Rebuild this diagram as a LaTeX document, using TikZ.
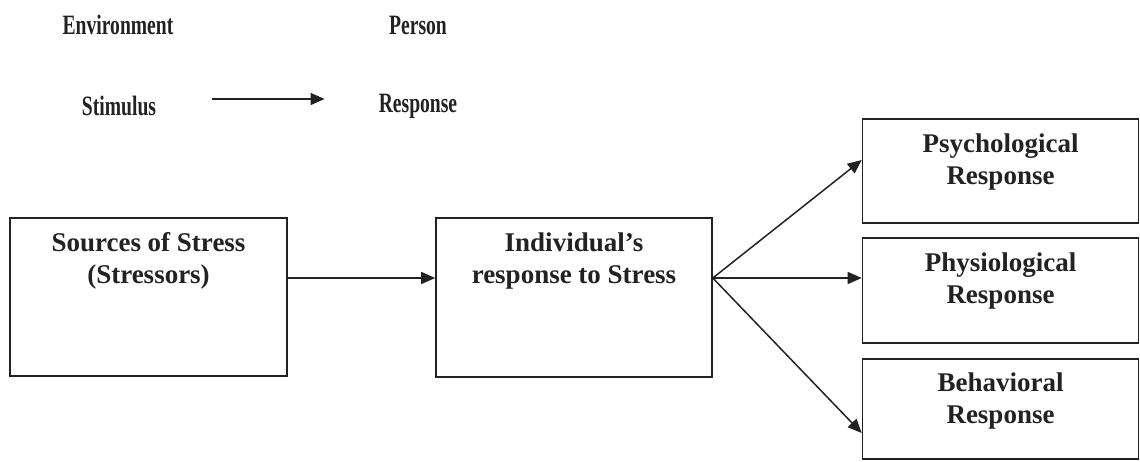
\documentclass[tikz,border=0pt]{standalone}
\usepackage{fontspec}
\setmainfont{Liberation Serif}
\newfontfamily\condfont[FakeStretch=0.7]{Liberation Serif}
\usetikzlibrary{arrows.meta}
\definecolor{ink}{HTML}{222222}
\tikzset{
  box/.style={draw=ink, line width=1.6pt, inner sep=0pt},
  txt/.style={text=ink, align=center, inner sep=0pt, font=\bfseries\fontsize{27}{32}\selectfont},
  toplab/.style={text=ink, inner sep=0pt, font=\condfont\bfseries\fontsize{28}{32}\selectfont},
  arr/.style={draw=ink, line width=1.5pt, -{Triangle[length=14pt,width=12pt]}}
}
\begin{document}
\begin{tikzpicture}[x=1pt,y=-1pt]
\useasboundingbox (0,0) rectangle (1140,461);
% top labels
\node[toplab] (env) at (118,25) {Environment};
\node[toplab] (per) at (418,25) {Person};
\node[toplab] (stim) at (119,106) {Stimulus};
\node[toplab] (resp) at (418,106) {Response};
\draw[arr] ([xshift=56pt,yshift=7pt]stim.east) -- ([xshift=-54pt,yshift=7pt]resp.west);
% boxes
\node[box, minimum width=277pt, minimum height=158pt] (src) at (148.5,297) {};
\node[txt] (srct) at (148.5,261) {Sources of Stress\\(Stressors)};
\node[box, minimum width=276pt, minimum height=159pt] (ind) at (574,297.5) {};
\node[txt] (indt) at (574,261) {Individual’s\\response to Stress};
\node[box, minimum width=276pt, minimum height=104pt] (psy) at (1000.5,171) {};
\node[txt] (psyt) at (1000.5,162.5) {Psychological\\Response};
\node[box, minimum width=276pt, minimum height=105pt] (phy) at (1000.5,290.5) {};
\node[txt] (phyt) at (1000.5,281.5) {Physiological\\Response};
\node[box, minimum width=276pt, minimum height=100pt] (beh) at (1000.5,409) {};
\node[txt] (beht) at (1000.5,401) {Behavioral\\Response};
% connectors
\draw[arr] ([yshift=19pt]src.east) -- ([yshift=19.5pt]ind.west);
\draw[arr] ([yshift=19.5pt]ind.east) -- ([yshift=11pt]psy.west);
\draw[arr] ([yshift=19.5pt]ind.east) -- ([yshift=12.5pt]phy.west);
\draw[arr] ([yshift=19.5pt]ind.east) -- ([yshift=-24pt]beh.west);
\end{tikzpicture}
\end{document}
